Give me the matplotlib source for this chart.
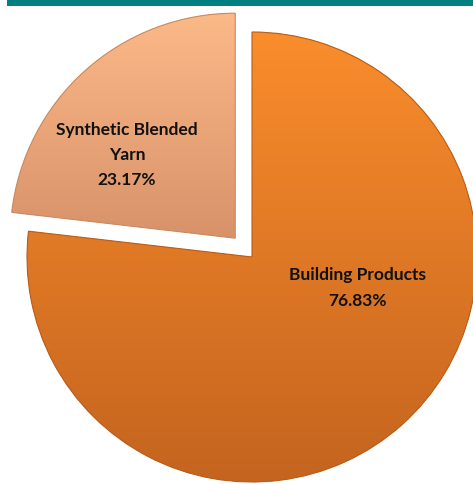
import numpy as np
import matplotlib
matplotlib.use('Agg')
import matplotlib.pyplot as plt
from matplotlib.colors import LinearSegmentedColormap
from matplotlib.patches import Rectangle, Wedge

labels = ['Building Products', 'Synthetic Blended\nYarn']
shares = [76.83, 23.17]
explode = [0.0, 0.112]
top_cols = ['#fa8d2c', '#fcb988']
bot_cols = ['#c4641f', '#d8926a']
edge_cols = ['#b85d1c', '#c98a62']

W, H = 473, 485
fig = plt.figure(figsize=(W/100, H/100), dpi=100)
ax = fig.add_axes([0, 0, 1, 1])

wedges, _ = ax.pie(shares, explode=explode, startangle=90, counterclock=False,
                   colors=top_cols, radius=1.0,
                   wedgeprops=dict(edgecolor='none'))

# shading: vertical gradient clipped to each wedge
for w, c1, c2, ec in zip(wedges, top_cols, bot_cols, edge_cols):
    cmap = LinearSegmentedColormap.from_list('g', [c2, c1])
    grad = np.linspace(0, 1, 256).reshape(-1, 1)
    bb = w.get_path().get_extents()
    im = ax.imshow(grad, cmap=cmap, origin='lower', aspect='auto',
                   extent=[bb.x0, bb.x1, bb.y0, bb.y1], zorder=2)
    im.set_clip_path(w)
    w.set_zorder(1)
    ax.add_patch(Wedge(w.center, w.r, w.theta1, w.theta2,
                       fill=False, edgecolor=ec, lw=0.8, zorder=3))

# pixel mapping: centre at (252, 258) from top-left, 225 px per unit
ppu = 225.0
cx, cy = 252, 258
ax.set_xlim(-cx/ppu, (W - cx)/ppu)
ax.set_ylim(-(H - cy)/ppu, cy/ppu)
ax.set_aspect('auto')
ax.axis('off')

fs = 12.5
ax.text((127 - cx)/ppu, (cy - 155)/ppu, labels[1] + '\n%.2f%%' % shares[1],
        ha='center', va='center', fontsize=fs, fontweight='bold',
        family='Lato', linespacing=1.7, color='#111111', zorder=4)
ax.text((357 - cx)/ppu, (cy - 288)/ppu, labels[0] + '\n%.2f%%' % shares[0],
        ha='center', va='center', fontsize=fs, fontweight='bold',
        family='Lato', linespacing=1.7, color='#111111', zorder=4)

fig.patches.append(Rectangle((7/W, 1 - 7/H), 1 - 7/W, 7/H, transform=fig.transFigure,
                             facecolor='#008080', edgecolor='none'))

fig.savefig('out.png', dpi=100)
